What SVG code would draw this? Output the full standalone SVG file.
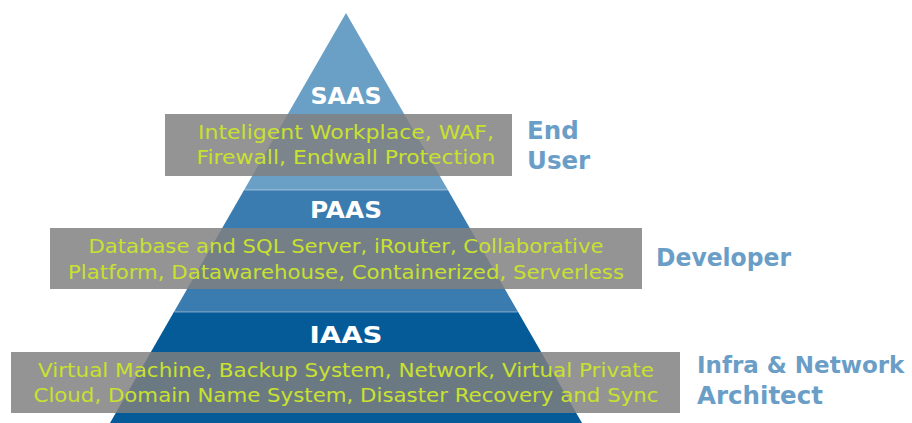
<svg xmlns="http://www.w3.org/2000/svg" width="912" height="423" viewBox="0 0 912 423">
<style>
.box{fill:#808080;fill-opacity:0.84}
.desc{font-family:"DejaVu Sans",sans-serif;font-size:20px;fill:#c9e12f;text-anchor:middle}
.tier{font-family:"DejaVu Sans",sans-serif;font-weight:bold;font-size:23.5px;fill:#ffffff;text-anchor:middle}
.role{font-family:"DejaVu Sans",sans-serif;font-weight:bold;font-size:24.5px;fill:#6a9ec7}
.sep{stroke:#ffffff;stroke-opacity:0.3;stroke-width:1.5}
</style>
<rect width="912" height="423" fill="#ffffff"/>
<g id="saas">
<polygon points="346,13 447.9,190 244.1,190" fill="#6a9fc6"/>
<text class="tier" x="346" y="104" textLength="71" lengthAdjust="spacingAndGlyphs">SAAS</text>
<rect class="box" x="165" y="114" width="347" height="62"/>
<text class="desc" x="346" y="139" textLength="296" lengthAdjust="spacingAndGlyphs">Inteligent Workplace, WAF,</text>
<text class="desc" x="346" y="164" textLength="299" lengthAdjust="spacingAndGlyphs">Firewall, Endwall Protection</text>
<text class="role" x="527" y="139">End</text>
<text class="role" x="527" y="169">User</text>
</g>
<g id="paas">
<polygon points="244.1,190 447.9,190 518.1,312 173.9,312" fill="#3a7bb0"/>
<line class="sep" x1="244.5" y1="190" x2="447.5" y2="190"/>
<text class="tier" x="346" y="218" textLength="72" lengthAdjust="spacingAndGlyphs">PAAS</text>
<rect class="box" x="50" y="228" width="592" height="61"/>
<text class="desc" x="346" y="253" textLength="515" lengthAdjust="spacingAndGlyphs">Database and SQL Server, iRouter, Collaborative</text>
<text class="desc" x="346" y="279" textLength="556" lengthAdjust="spacingAndGlyphs">Platform, Datawarehouse, Containerized, Serverless</text>
<text class="role" x="656" y="266" textLength="135" lengthAdjust="spacingAndGlyphs">Developer</text>
</g>
<g id="iaas">
<polygon points="173.9,312 518.1,312 582,423 110,423" fill="#055a98"/>
<line class="sep" x1="174.5" y1="312" x2="517.5" y2="312"/>
<text class="tier" x="346" y="343" textLength="73" lengthAdjust="spacingAndGlyphs">IAAS</text>
<rect class="box" x="11" y="352" width="669" height="61"/>
<text class="desc" x="346" y="377" textLength="616" lengthAdjust="spacingAndGlyphs">Virtual Machine, Backup System, Network, Virtual Private</text>
<text class="desc" x="346" y="402" textLength="625" lengthAdjust="spacingAndGlyphs">Cloud, Domain Name System, Disaster Recovery and Sync</text>
<text class="role" x="697" y="373" style="font-size:23px">Infra &amp; Network</text>
<text class="role" x="697" y="404">Architect</text>
</g>
<g id="connectors"/>
</svg>
